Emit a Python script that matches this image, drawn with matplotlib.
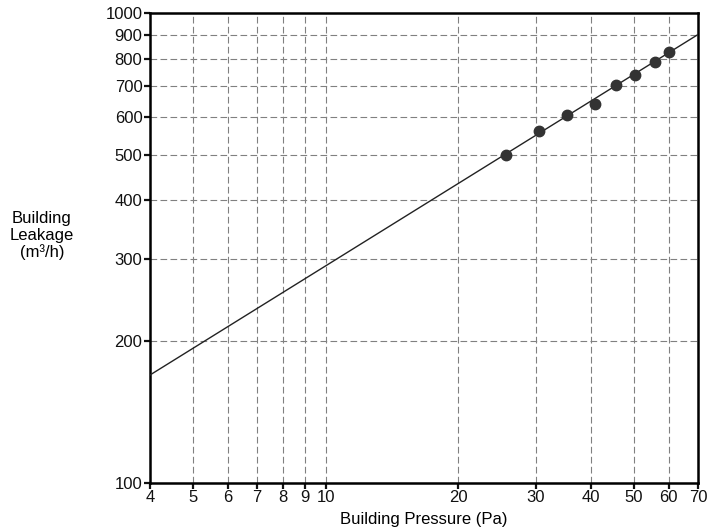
import matplotlib.pyplot as plt
from matplotlib.ticker import FixedLocator, NullLocator, FixedFormatter

plt.rcParams['font.family'] = ['Liberation Sans', 'DejaVu Sans']

# measured points
pressure = [25.6, 30.5, 35.3, 40.9, 45.5, 50.4, 55.8, 60.0]
leakage = [500, 560, 607, 641, 703, 740, 789, 828]

# fitted power-law line (straight on log-log), end points
fit_pressure = [4, 70]
fit_leakage = [169.6, 902]

x_ticks = [4, 5, 6, 7, 8, 9, 10, 20, 30, 40, 50, 60, 70]
y_ticks = [100, 200, 300, 400, 500, 600, 700, 800, 900, 1000]

fig = plt.figure(figsize=(7.09, 5.31), dpi=100)
ax = fig.add_axes([0.2116, 0.091, 0.7734, 0.884])

ax.set_xscale('log')
ax.set_yscale('log')
ax.set_xlim(4, 70)
ax.set_ylim(100, 1000)

ax.plot(fit_pressure, fit_leakage, color='#222222', linewidth=1.0, zorder=3)
ax.plot(pressure, leakage, 'o', color='#333333', markersize=7.5, zorder=4)

ax.xaxis.set_major_locator(FixedLocator(x_ticks))
ax.xaxis.set_major_formatter(FixedFormatter([str(v) for v in x_ticks]))
ax.xaxis.set_minor_locator(NullLocator())
ax.yaxis.set_major_locator(FixedLocator(y_ticks))
ax.yaxis.set_major_formatter(FixedFormatter([str(v) for v in y_ticks]))
ax.yaxis.set_minor_locator(NullLocator())

ax.grid(True, which='major', linestyle=(0, (6, 3)), color='#808080', linewidth=0.8)
ax.set_axisbelow(True)

for s in ax.spines.values():
    s.set_linewidth(1.8)
ax.tick_params(axis='both', direction='out', length=4, width=1.6, labelsize=12,
               pad=1.5, colors='#111111')

ax.set_xlabel('Building Pressure (Pa)', fontsize=12, labelpad=5)
fig.text(0.059, 0.556, 'Building\nLeakage\n(m³/h)', ha='center', va='center',
         fontsize=12, linespacing=1.12)

fig.savefig('out.png', dpi=100)
